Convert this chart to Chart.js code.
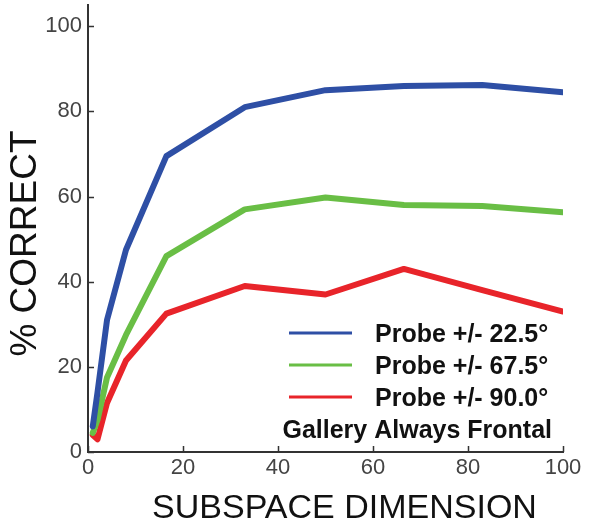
<!DOCTYPE html>
<html>
<head>
<meta charset="utf-8">
<script src="https://cdn.jsdelivr.net/npm/chart.js@4.4.0/dist/chart.umd.min.js"></script>
<style>
  body { margin: 0; background: #fff; }
  #wrap { width: 603px; height: 527px; }
</style>
</head>
<body>
<div id="wrap"><canvas id="accuracyChart"></canvas></div>
<script>
// values
const dims = [1, 2, 4, 8, 16.5, 33, 50, 66.5, 83, 100];
const probe225 = [6, 14, 31, 47.5, 69.5, 81, 85, 86, 86.2, 84.5];
const probe675 = [4.5, 7.5, 17.5, 27.5, 46, 57, 59.8, 58, 57.8, 56.3];
const probe900 = [4, 3, 11.5, 21.5, 32.5, 39, 37, 43, 38, 33];
const seriesLabels = ['Probe +/- 22.5°', 'Probe +/- 67.5°', 'Probe +/- 90.0°'];
const seriesColors = ['#2e4fa5', '#69be45', '#e8242a'];
const xTicks = [0, 20, 40, 60, 80, 100];
const yTicks = [0, 20, 40, 60, 80, 100];
const xTitle = 'SUBSPACE DIMENSION';
const yTitle = '% CORRECT';
const galleryNote = 'Gallery Always Frontal';

const toPoints = vals => vals.map((v, i) => ({ x: dims[i], y: v }));

// inward ticks, axis titles and the legend inside the plot
const frameDecor = {
    id: 'frameDecor',
    afterDraw(chart) {
        const { ctx, chartArea: area, scales } = chart;
        ctx.save();
        ctx.strokeStyle = '#333';
        ctx.lineWidth = 1.5;
        ctx.beginPath();
        xTicks.forEach(v => {
            const px = Math.round(scales.x.getPixelForValue(v)) + 0.5;
            ctx.moveTo(px, area.bottom);
            ctx.lineTo(px, area.bottom - 6);
        });
        yTicks.forEach(v => {
            const py = Math.round(scales.y.getPixelForValue(v)) + 0.5;
            ctx.moveTo(area.left, py);
            ctx.lineTo(area.left + 6, py);
        });
        ctx.stroke();

        // axis titles (a bit off-centre in the original)
        ctx.fillStyle = '#111';
        ctx.textAlign = 'center';
        ctx.textBaseline = 'middle';
        ctx.font = '34px "Liberation Sans", Arial, sans-serif';
        ctx.fillText(xTitle, (area.left + area.right) / 2 + 19, area.bottom + 57);
        ctx.save();
        ctx.translate(26, (area.top + area.bottom) / 2 + 15);
        ctx.rotate(-Math.PI / 2);
        ctx.font = '37px "Liberation Sans", Arial, sans-serif';
        ctx.fillText(yTitle, 0, 0);
        ctx.restore();

        // legend
        const textX = area.right - 188;
        ctx.font = 'bold 25px "Liberation Sans", Arial, sans-serif';
        ctx.textAlign = 'left';
        chart.data.datasets.forEach((ds, i) => {
            const yy = area.bottom - 119 + i * 32;
            ctx.strokeStyle = ds.borderColor;
            ctx.lineWidth = 3;
            ctx.beginPath();
            ctx.moveTo(textX - 86, yy);
            ctx.lineTo(textX - 23, yy);
            ctx.stroke();
            ctx.fillText(ds.label, textX, yy + 2);
        });
        ctx.textAlign = 'right';
        ctx.fillText(galleryNote, area.right - 11, area.bottom - 21);
        ctx.restore();
    }
};

const tickFont = { family: '"Liberation Sans", Arial, sans-serif', size: 22 };

new Chart(document.getElementById('accuracyChart'), {
    type: 'line',
    data: {
        datasets: [probe225, probe675, probe900].map((vals, i) => ({
            label: seriesLabels[i],
            data: toPoints(vals),
            borderColor: seriesColors[i],
            backgroundColor: seriesColors[i],
            borderWidth: 6,
            borderCapStyle: 'round',
            borderJoinStyle: 'round',
            pointRadius: 0,
            tension: 0
        }))
    },
    options: {
        responsive: true,
        maintainAspectRatio: false,
        animation: false,
        layout: { padding: { top: 5, right: 40, left: 0, bottom: 0 } },
        plugins: { legend: { display: false }, tooltip: { enabled: false } },
        scales: {
            x: {
                type: 'linear',
                min: 0,
                max: 100,
                afterBuildTicks: s => { s.ticks = xTicks.map(v => ({ value: v })); },
                afterFit: s => { s.height = 75; s.paddingLeft = 0; s.paddingRight = 0; },
                grid: { display: false, drawTicks: false },
                border: { display: true, color: '#333', width: 2 },
                ticks: { padding: 3, color: '#444', font: tickFont }
            },
            y: {
                min: 0,
                max: 105,
                afterBuildTicks: s => { s.ticks = yTicks.map(v => ({ value: v })); },
                afterFit: s => { s.width = 88; s.paddingTop = 0; s.paddingBottom = 0; },
                grid: { display: false, drawTicks: false },
                border: { display: true, color: '#333', width: 2 },
                ticks: { padding: 6, color: '#444', font: tickFont }
            }
        }
    },
    plugins: [frameDecor]
});
</script>
</body>
</html>
